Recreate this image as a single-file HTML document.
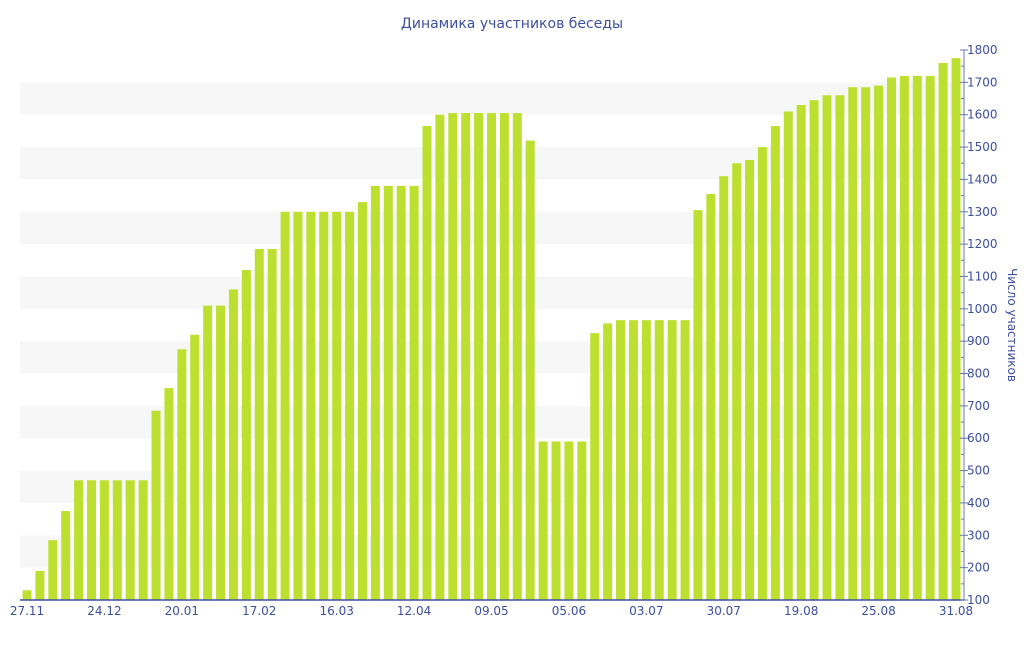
<!DOCTYPE html>
<html><head><meta charset="utf-8"><style>
body{margin:0;background:#fff;}
svg text{font-family:"DejaVu Sans","Liberation Sans",sans-serif;fill:#3d4f9f;}
</style></head><body>
<svg id="chart" width="1024" height="640" xmlns="http://www.w3.org/2000/svg">
<text x="512" y="28" text-anchor="middle" font-size="14">Динамика участников беседы</text>
<g id="bands"></g><g id="bars"></g><g id="axis"></g><g id="xlabels"></g>
<text transform="translate(1008,325) rotate(90)" text-anchor="middle" font-size="12">Число участников</text>
</svg>
<script>
const values=[130,190,285,375,470,470,470,470,470,470,685,755,875,920,1010,1010,1060,1120,1185,1185,1300,1300,1300,1300,1300,1300,1330,1380,1380,1380,1380,1565,1600,1605,1605,1605,1605,1605,1605,1520,590,590,590,590,925,955,965,965,965,965,965,965,1305,1355,1410,1450,1460,1500,1565,1610,1630,1645,1660,1660,1685,1685,1690,1715,1720,1720,1720,1760,1775];
const xTickLabels=["27.11","24.12","20.01","17.02","16.03","12.04","09.05","05.06","03.07","30.07","19.08","25.08","31.08"];
const yTicks=[100,200,300,400,500,600,700,800,900,1000,1100,1200,1300,1400,1500,1600,1700,1800];
const NS="http://www.w3.org/2000/svg";
const yMin=100,yMax=1800,plotTop=50,plotBot=600,plotLeft=20,axisX=964;
const yScale=v=>plotBot-(v-yMin)/(yMax-yMin)*(plotBot-plotTop);
const firstC=27,lastC=956;
const step=(lastC-firstC)/(values.length-1);
const xScale=i=>firstC+i*step;
function mk(t,p,a){const e=document.createElementNS(NS,t);for(const k in a)e.setAttribute(k,a[k]);p.appendChild(e);return e;}
const bandsG=document.getElementById('bands');
for(let v=200;v<1800;v+=200){
 const r=mk('rect',bandsG,{x:plotLeft,y:yScale(v+100),width:axisX-plotLeft,height:yScale(v)-yScale(v+100),fill:'#f7f7f7'});
 
 
}
const barsG=document.getElementById('bars');
values.forEach((v,i)=>{
 const r=mk('rect',barsG,{x:xScale(i)-4.5,y:yScale(v),width:9,height:plotBot-yScale(v),fill:'#bde030'});
 
 
});
const axG=document.getElementById('axis');
const bl=mk('line',axG,{x1:plotLeft,x2:axisX,y1:plotBot,y2:plotBot,stroke:'#3d4f9f','stroke-width':1.5});


const al=mk('line',axG,{x1:axisX,x2:axisX,y1:plotTop,y2:plotBot,stroke:'#6a78b0','stroke-width':1});


for(let v=150;v<1800;v+=100){mk('line',axG,{x1:axisX-3,x2:axisX,y1:yScale(v),y2:yScale(v),stroke:'#6a78b0'});}
yTicks.forEach(v=>{
 mk('line',axG,{x1:axisX-4,x2:axisX+4,y1:yScale(v),y2:yScale(v),stroke:'#6a78b0'});
 const t=mk('text',axG,{x:axisX+3,y:yScale(v)+4,'font-size':12});
 t.textContent=v;
 
 
});
const xlG=document.getElementById('xlabels');
xTickLabels.forEach((s,k)=>{
 const t=mk('text',xlG,{x:xScale(k*6),y:615,'text-anchor':'middle','font-size':12});
 t.textContent=s;
 
 
});
</script>
</body></html>
